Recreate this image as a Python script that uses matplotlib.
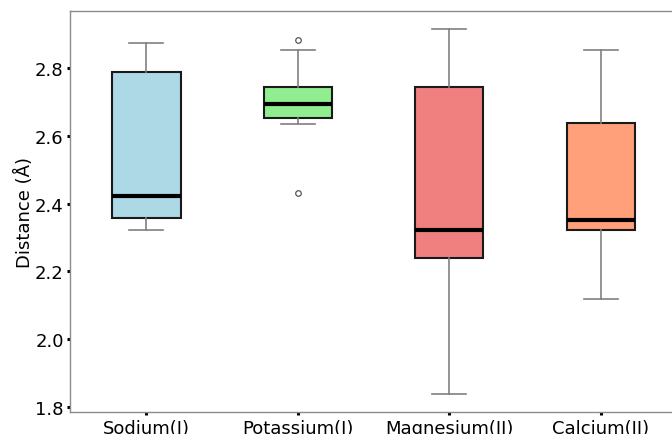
import matplotlib
matplotlib.use("Agg")
import matplotlib.pyplot as plt

categories = ["Sodium(I)", "Potassium(I)", "Magnesium(II)", "Calcium(II)"]
whisker_low = [2.321, 2.634, 1.838, 2.119]
q1 = [2.357, 2.653, 2.239, 2.321]
medians = [2.422, 2.693, 2.321, 2.352]
q3 = [2.789, 2.745, 2.745, 2.639]
whisker_high = [2.875, 2.855, 2.915, 2.854]
fliers = [[], [2.884, 2.433], [], []]
colors = ["#ADD8E6", "#90EE90", "#F08080", "#FFA07A"]

stats = []
for i, c in enumerate(categories):
    stats.append(dict(label=c, whislo=whisker_low[i], q1=q1[i], med=medians[i],
                      q3=q3[i], whishi=whisker_high[i], fliers=fliers[i]))

fig = plt.figure(figsize=(6.72, 4.35), dpi=100)
ax = fig.add_axes([70/672, 21.7/435, 606.4/672, 401.3/435])

bp = ax.bxp(stats, positions=range(len(categories)), widths=0.45,
            patch_artist=True,
            boxprops=dict(edgecolor="#1a1a1a", linewidth=1.5),
            whiskerprops=dict(color="#808080", linewidth=1.2),
            capprops=dict(color="#808080", linewidth=1.2),
            medianprops=dict(color="black", linewidth=3),
            flierprops=dict(marker="o", markersize=4, markerfacecolor="white",
                            markeredgecolor="#555555", markeredgewidth=0.9))
for patch, col in zip(bp["boxes"], colors):
    patch.set_facecolor(col)

ax.set_xlim(-0.505, 3.5)
ax.margins(y=0.05)
ax.autoscale(axis="y")
ax.set_yticks([1.8, 2.0, 2.2, 2.4, 2.6, 2.8])
ax.set_xticks(range(len(categories)))
ax.set_xticklabels(categories)
ax.set_ylabel("Distance (Å)", fontsize=13, labelpad=1)
ax.tick_params(axis="both", labelsize=13, length=2.5, width=2.2, color="black", pad=2)
for s in ax.spines.values():
    s.set_color("#8c8c8c")
    s.set_linewidth(1.0)

fig.savefig("out.png", dpi=100)
